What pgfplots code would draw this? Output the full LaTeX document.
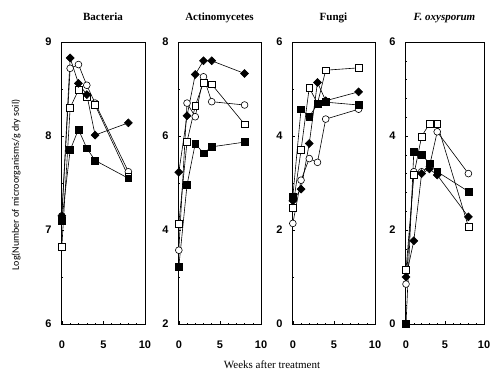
\documentclass[border=0pt]{standalone}
\usepackage{pgfplots}
\pgfplotsset{compat=1.18}
\usepackage{fontspec}
\setmainfont{Liberation Serif}
\newfontfamily\tickfont{Liberation Sans}
\newfontfamily\ylabfont{Carlito}
\pgfplotsset{
 panel/.style={scale only axis, height=282pt, clip=false,
   xmin=-0.1, xmax=10, xtick={0,5,10}, minor x tick num=4,
   tick align=inside, tick pos=left, major tick length=3pt, minor tick length=1.5pt,
   axis line style={line width=0.8pt},
   every tick/.style={black, line width=0.5pt},
   ticklabel style={font=\tickfont\bfseries\fontsize{11}{13}\selectfont},
   /pgf/number format/assume math mode=true,
   xticklabel style={yshift=-13pt},
   yticklabel style={xshift=-6pt},
   title style={font=\bfseries\fontsize{11}{13}\selectfont, anchor=base, yshift=16pt},
 },
 sd/.style={black, line width=0.6pt, mark=square*, mark size=2.8pt, mark options={fill=black, rotate=45}},
 oc/.style={black, line width=0.6pt, mark=*, mark size=3.4pt, mark options={fill=white}},
 os/.style={black, line width=0.6pt, mark=square*, mark size=3.4pt, mark options={fill=white}},
 fs/.style={black, line width=0.6pt, mark=square*, mark size=3.4pt, mark options={fill=black}},
}
\begin{document}
\begin{tikzpicture}
\path[use as bounding box] (0pt,0pt) rectangle (490pt,378pt);
% Bacteria
\begin{scope}[shift={(61pt,54pt)}]
\begin{axis}[panel, width=84pt, ymin=6, ymax=9, ytick={6,7,8,9}, minor y tick num=1, title={Bacteria}]
\addplot[oc] coordinates {(0,7.15)(1,8.72)(2,8.76)(3,8.54)(4,8.35)(8,7.62)};
\addplot[os] coordinates {(0,6.82)(1,8.30)(2,8.49)(3,8.42)(4,8.33)(8,7.57)};
\addplot[fs] coordinates {(0,7.10)(1,7.85)(2,8.07)(3,7.87)(4,7.74)(8,7.55)};
\addplot[sd] coordinates {(0,7.15)(1,8.83)(2,8.56)(3,8.44)(4,8.01)(8,8.14)};
\end{axis}
\end{scope}
% Actinomycetes
\begin{scope}[shift={(178pt,54pt)}]
\begin{axis}[panel, width=83pt, ymin=2, ymax=8, ytick={2,4,6,8}, minor y tick num=1, title={Actinomycetes}]
\addplot[oc] coordinates {(0,3.57)(1,6.70)(2,6.41)(3,7.26)(4,6.73)(8,6.66)};
\addplot[os] coordinates {(0,4.14)(1,5.88)(2,6.64)(3,7.14)(4,7.10)(8,6.25)};
\addplot[fs] coordinates {(0,3.22)(1,4.96)(2,5.84)(3,5.63)(4,5.77)(8,5.87)};
\addplot[sd] coordinates {(0,5.23)(1,6.43)(2,7.31)(3,7.60)(4,7.60)(8,7.33)};
\end{axis}
\end{scope}
% Fungi
\begin{scope}[shift={(292pt,54pt)}]
\begin{axis}[panel, width=83pt, ymin=0, ymax=6, ytick={0,2,4,6}, minor y tick num=1, title={Fungi}]
\addplot[oc] coordinates {(0,2.14)(1,3.06)(2,3.52)(3,3.44)(4,4.36)(8,4.57)};
\addplot[os] coordinates {(0,2.47)(1,3.70)(2,5.03)(3,4.69)(4,5.40)(8,5.45)};
\addplot[fs] coordinates {(0,2.71)(1,4.57)(2,4.41)(3,4.68)(4,4.72)(8,4.66)};
\addplot[sd] coordinates {(0,2.62)(1,2.87)(2,3.84)(3,5.14)(4,4.75)(8,4.94)};
\end{axis}
\end{scope}
% F. oxysporum
\begin{scope}[shift={(405pt,54pt)}]
\begin{axis}[panel, width=79pt, xmin=-0.13, ymin=0, ymax=6, ytick={0,2,4,6}, minor y tick num=4, title={\textit{F. oxysporum}}]
\addplot[oc] coordinates {(0,0.85)(1,3.24)(2,3.24)(3,3.35)(4,4.09)(8,3.20)};
\addplot[os] coordinates {(0,1.15)(1,3.17)(2,3.99)(3,4.26)(4,4.26)(8,2.07)};
\addplot[fs] coordinates {(0,0.0)(1,3.67)(2,3.60)(3,3.42)(4,3.24)(8,2.82)};
\addplot[sd] coordinates {(0,1.00)(1,1.77)(2,3.20)(3,3.30)(4,3.17)(8,2.28)};
\end{axis}
\end{scope}
\node[rotate=90, font=\ylabfont\fontsize{10}{12}\selectfont] at (16pt,193pt) {Log(Number of microorganisms/g dry soil)};
\node[font=\fontsize{11}{13}\selectfont] at (272pt,13pt) {Weeks after treatment};
\end{tikzpicture}
\end{document}
